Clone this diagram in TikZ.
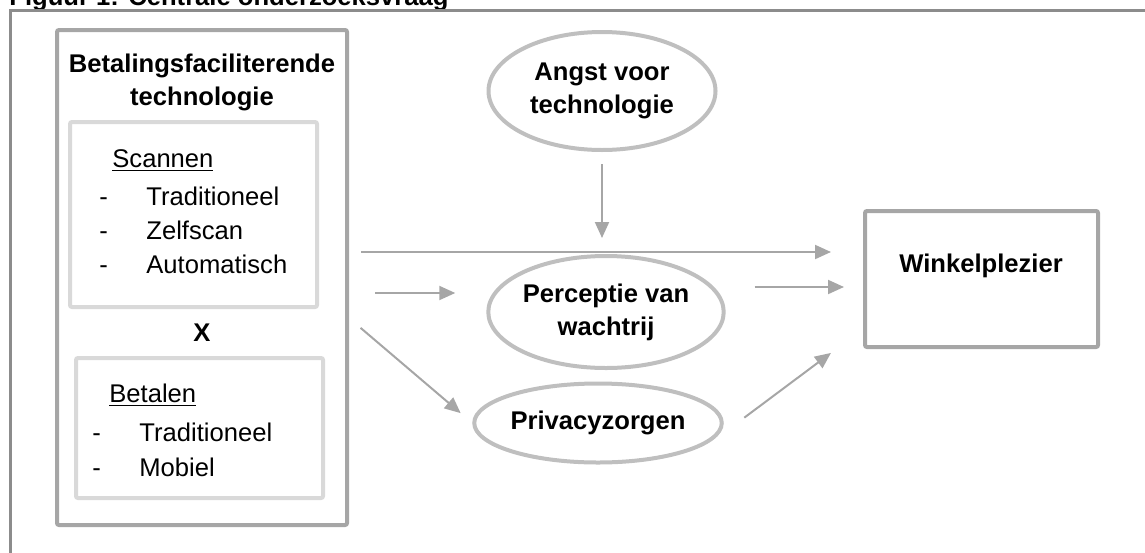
\documentclass[tikz,border=0pt]{standalone}
\usepackage{fontspec}
\setmainfont{Liberation Sans}
\usetikzlibrary{shapes.geometric, arrows.meta, positioning, calc}

\definecolor{lijngrijs}{HTML}{A6A6A6}
\definecolor{ovaalgrijs}{HTML}{BFBFBF}
\definecolor{kadergrijs}{HTML}{D9D9D9}
\definecolor{randgrijs}{HTML}{8C8C8C}
\newcommand{\diafont}{\fontsize{12.8}{16.5}\selectfont}

\begin{document}
\begin{tikzpicture}[
  x=0.5pt, y=-0.5pt,
  tekst/.style={font=\diafont, inner sep=0pt, anchor=base west},
  vet/.style={font=\diafont\bfseries, align=center},
  hoofdbox/.style={rectangle, draw=lijngrijs, line width=2pt, rounded corners=1pt, inner sep=0pt},
  subbox/.style={rectangle, draw=kadergrijs, line width=2pt, rounded corners=1pt, inner sep=0pt},
  varnode/.style={ellipse, draw=ovaalgrijs, line width=2pt, inner sep=0pt, font=\diafont\bfseries, align=center},
  pijl/.style={-{Triangle[length=8pt, width=7pt]}, draw=lijngrijs, line width=1pt}
]
\useasboundingbox (0,0) rectangle (1145,552);

% Kader en titel
\node[tekst, font=\diafont\bfseries] (titel) at (9,5) {Figuur 1: Centrale onderzoeksvraag};
\draw[randgrijs, line width=1.5pt] (10,560) -- (10,10) -- (1160,10);

% Onafhankelijke variabele
\node[hoofdbox, minimum width=145pt, minimum height=247.5pt] (techbox) at (202,277.5) {};
\node[vet] (techtitel) at (202,82) {Betalingsfaciliterende\\technologie};

\node[subbox, minimum width=123.5pt, minimum height=92.5pt] (scanbox) at (193.5,214.5) {};
\node[tekst] (scankop) at (112,167) {\underline{Scannen}};
\node[tekst] (streep1) at (99,205) {-};
\node[tekst] (scan1) at (146,205) {Traditioneel};
\node[tekst] (streep2) at (99,239) {-};
\node[tekst] (scan2) at (146,239) {Zelfscan};
\node[tekst] (streep3) at (99,273) {-};
\node[tekst] (scan3) at (146,273) {Automatisch};

\node[vet, anchor=base] (maal) at (202,341) {X};

\node[subbox, minimum width=123.5pt, minimum height=70pt] (betaalbox) at (199.5,428) {};
\node[tekst] (betaalkop) at (109,402) {\underline{Betalen}};
\node[tekst] (streep4) at (92,441) {-};
\node[tekst] (betaal1) at (139,441) {Traditioneel};
\node[tekst] (streep5) at (92,476) {-};
\node[tekst] (betaal2) at (139,476) {Mobiel};

% Moderator, mediatoren en uitkomst
\node[varnode, minimum width=113.5pt, minimum height=59pt] (angst) at (602,91) {Angst voor\\technologie};
\node[varnode, minimum width=112pt, minimum height=56pt] (perceptie) at (606,312) {Perceptie van\\wachtrij};
\node[varnode, minimum width=119pt, minimum height=39.5pt] (privacy) at (598,423) {Privacyzorgen};
\node[hoofdbox, minimum width=116.5pt, minimum height=68pt] (winkel) at (981.5,279) {};
\node[vet] (winkeltekst) at (981,266) {Winkelplezier};

% Pijlen
\draw[pijl, shorten <=6pt, shorten >=8pt] (angst.south) -- (angst.south |- perceptie.north);
\draw[pijl, shorten <=6pt, shorten >=16pt] (techbox.east |- 0,252) -- (winkel.west |- 0,252);
\draw[pijl, shorten <=13pt, shorten >=15.5pt] (techbox.east |- 0,293) -- (perceptie.west |- 0,293);
\draw[pijl, shorten <=7.6pt, shorten >=7.6pt] (techbox.east |- 0,318) -- (privacy.west);
\draw[pijl, shorten <=14.5pt, shorten >=9.5pt] (perceptie.east |- 0,287) -- (winkel.west |- 0,287);
\draw[pijl, shorten <=12.8pt, shorten >=20pt] (privacy.east |- 0,433) -- (winkel.west |- 0,329);

\end{tikzpicture}
\end{document}
